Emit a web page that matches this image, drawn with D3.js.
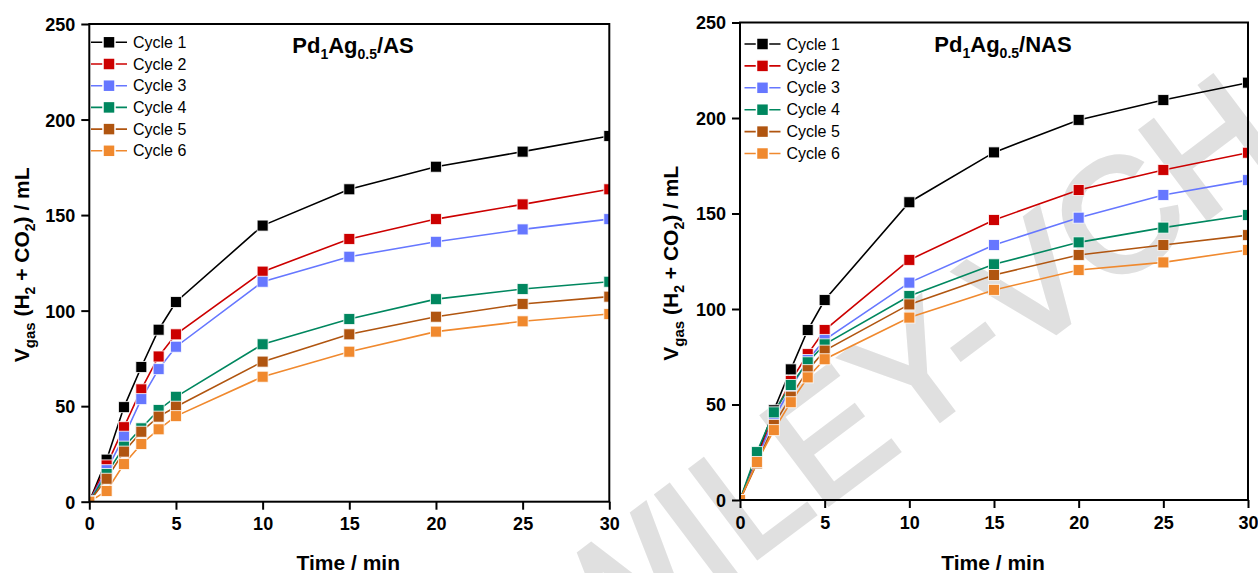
<!DOCTYPE html>
<html>
<head>
<meta charset="utf-8">
<script src="https://cdn.jsdelivr.net/npm/d3@7"></script>
<style>
  body { margin: 0; background: #fff; }
  svg { display: block; font-family: "Liberation Sans", Arial, sans-serif; }
  .tick text { font-weight: bold; font-size: 18px; fill: #000; }
  .tick line { stroke: #000; stroke-width: 2; }
</style>
</head>
<body>
<div id="chart"></div>
<script>
// time points (min)
const times = [0, 1, 2, 3, 4, 5, 10, 15, 20, 25, 30];
const cycleNames = ["Cycle 1", "Cycle 2", "Cycle 3", "Cycle 4", "Cycle 5", "Cycle 6"];

// Pd1Ag0.5/AS gas volume (mL)
const asCycle1 = [0, 22, 49.5, 70.5, 90, 104.5, 144.5, 163.5, 175.3, 183.2, 191.4];
const asCycle2 = [0, 19, 39, 58.8, 76, 87.6, 120.4, 137.5, 147.9, 155.6, 163.5];
const asCycle3 = [0, 16.5, 34, 53.7, 69.4, 81.1, 115.1, 128.2, 136, 142.5, 147.9];
const asCycle4 = [0, 14.5, 28.8, 38.4, 48, 54.9, 82.4, 95.6, 106, 111.3, 115.1];
const asCycle5 = [0, 12, 26.2, 36.6, 44.5, 49.7, 73.3, 87.6, 96.8, 103.5, 107.3];
const asCycle6 = [0, 5.6, 19.7, 30.2, 37.9, 44.8, 65.4, 78.5, 89, 94.4, 98.2];

// Pd1Ag0.5/NAS gas volume (mL)
const nasCycle1 = [0, 23, 47, 68.4, 89, 104.7, 155.9, 182, 199, 209.4, 218.5];
const nasCycle2 = [0, 22, 44.5, 62.3, 76.4, 89, 125.7, 146.6, 162.3, 172.8, 181.8];
const nasCycle3 = [0, 21, 42.8, 58.5, 73.3, 83.8, 113.8, 133.5, 147.8, 159.7, 167.5];
const nasCycle4 = [0, 25.1, 45.9, 60.2, 72.1, 81.5, 106.8, 123.4, 134.9, 142.6, 149.2];
const nasCycle5 = [0, 19.2, 39.3, 54.1, 68, 78.2, 102.4, 117.8, 128.3, 133.5, 138.7];
const nasCycle6 = [0, 19.9, 36.6, 51.2, 64.2, 73.7, 95.5, 110, 120.4, 124.4, 130.9];

const xTicks = [0, 5, 10, 15, 20, 25, 30];
const yTicks = [0, 50, 100, 150, 200, 250];

// black, red, blue, green, brown, orange
const colors = ["#000000", "#cc0000", "#6677ff", "#00875f", "#b05510", "#f0892e"];

const W = 1258, H = 573;

const svg = d3.select("#chart").append("svg")
  .attr("width", W)
  .attr("height", H);

// faint publisher watermark behind the right panel (origin = centre of the "C")
const wm = svg.append("g")
  .attr("transform", "translate(1117,215) rotate(-37)");
wm.append("text")
  .attr("x", 173)
  .attr("y", 57)
  .attr("text-anchor", "end")
  .style("font-size", "160px")
  .style("fill", "#e0e0e0")
  .style("stroke", "#e0e0e0")
  .style("stroke-width", 5)
  .text("WILEY-VCH");

function drawPanel(opts) {
  const g = svg.append("g");

  const x = d3.scaleLinear().domain([0, 30]).range([opts.left, opts.right]);
  const y = d3.scaleLinear().domain([0, 250]).range([opts.bottom, opts.top]);

  const clipId = "clip-" + opts.id;
  g.append("clipPath").attr("id", clipId)
    .append("rect")
    .attr("x", opts.left)
    .attr("y", opts.top)
    .attr("width", opts.right - opts.left)
    .attr("height", opts.bottom - opts.top);

  // data lines and markers
  const plot = g.append("g").attr("clip-path", "url(#" + clipId + ")");
  const line = d3.line()
    .x((d, i) => x(times[i]))
    .y(d => y(d));

  opts.series.forEach((vals, k) => {
    plot.append("path")
      .datum(vals)
      .attr("d", line)
      .attr("fill", "none")
      .attr("stroke", colors[k])
      .attr("stroke-width", 1.6);
  });
  // markers drawn after all lines, last cycle on top
  opts.series.forEach((vals, k) => {
    plot.selectAll(null)
      .data(vals)
      .join("rect")
      .attr("x", (d, i) => x(times[i]) - 5.5)
      .attr("y", d => y(d) - 5.5)
      .attr("width", 11)
      .attr("height", 11)
      .attr("fill", colors[k])
      .attr("stroke", "#ffffff")
      .attr("stroke-opacity", 0.8)
      .attr("stroke-width", 1);
  });

  // axes
  const xAxis = d3.axisBottom(x).tickValues(xTicks).tickSize(8).tickPadding(8);
  const yAxis = d3.axisLeft(y).tickValues(yTicks).tickSize(8).tickPadding(6);

  g.append("g")
    .attr("transform", "translate(0," + opts.bottom + ")")
    .call(xAxis)
    .call(a => a.select(".domain").remove());
  g.append("g")
    .attr("transform", "translate(" + opts.left + ",0)")
    .call(yAxis)
    .call(a => a.select(".domain").remove())
    .selectAll("text").attr("dy", "0.36em");

  // frame
  g.append("rect")
    .attr("x", opts.left)
    .attr("y", opts.top)
    .attr("width", opts.right - opts.left)
    .attr("height", opts.bottom - opts.top)
    .attr("fill", "none")
    .attr("stroke", "#000")
    .attr("stroke-width", 2);

  // legend
  cycleNames.forEach((name, k) => {
    const ly = opts.legendY + k * opts.legendStep;
    g.append("line")
      .attr("x1", opts.legendX)
      .attr("x2", opts.legendX + 36)
      .attr("y1", ly)
      .attr("y2", ly)
      .attr("stroke", colors[k])
      .attr("stroke-width", 1.6);
    g.append("rect")
      .attr("x", opts.legendX + 18 - 6)
      .attr("y", ly - 6)
      .attr("width", 12)
      .attr("height", 12)
      .attr("fill", colors[k])
      .attr("stroke", "#fff")
      .attr("stroke-width", 1.5);
    g.append("text")
      .attr("x", opts.legendX + 42)
      .attr("y", ly + 5.5)
      .style("font-size", "16px")
      .text(name);
  });

  // panel title Pd1Ag0.5/...
  const title = g.append("text")
    .attr("x", opts.titleX)
    .attr("y", opts.titleY)
    .attr("text-anchor", "middle")
    .style("font-weight", "bold")
    .style("font-size", "22px");
  title.append("tspan").text("Pd");
  title.append("tspan").attr("dy", 6).style("font-size", "14px").text("1");
  title.append("tspan").attr("dy", -6).text("Ag");
  title.append("tspan").attr("dy", 6).style("font-size", "14px").text("0.5");
  title.append("tspan").attr("dy", -6).text(opts.support);

  // x axis title
  g.append("text")
    .attr("x", (opts.left + opts.right) / 2 - 1)
    .attr("y", 570)
    .attr("text-anchor", "middle")
    .style("font-weight", "bold")
    .style("font-size", "21px")
    .text("Time / min");

  // y axis title
  const yt = g.append("text")
    .attr("transform", "translate(" + opts.yTitleX + "," + ((opts.top + opts.bottom) / 2 + 2) + ") rotate(-90)")
    .attr("text-anchor", "middle")
    .style("font-weight", "bold")
    .style("font-size", "21px");
  yt.append("tspan").text("V");
  yt.append("tspan").attr("dy", 6).style("font-size", "15px").text("gas");
  yt.append("tspan").attr("dy", -6).text(" (H");
  yt.append("tspan").attr("dy", 6).style("font-size", "14px").text("2");
  yt.append("tspan").attr("dy", -6).text(" + CO");
  yt.append("tspan").attr("dy", 6).style("font-size", "14px").text("2");
  yt.append("tspan").attr("dy", -6).text(") / mL");
}

drawPanel({
  id: "as",
  left: 89.3, right: 609.3, top: 24, bottom: 501.7,
  series: [asCycle1, asCycle2, asCycle3, asCycle4, asCycle5, asCycle6],
  legendX: 91, legendY: 42.3, legendStep: 21.7,
  titleX: 353, titleY: 53, support: "/AS",
  yTitleX: 29
});

drawPanel({
  id: "nas",
  left: 740, right: 1248, top: 22.5, bottom: 500,
  series: [nasCycle1, nasCycle2, nasCycle3, nasCycle4, nasCycle5, nasCycle6],
  legendX: 744.5, legendY: 44, legendStep: 21.9,
  titleX: 1003, titleY: 52, support: "/NAS",
  yTitleX: 678
});
</script>
</body>
</html>
